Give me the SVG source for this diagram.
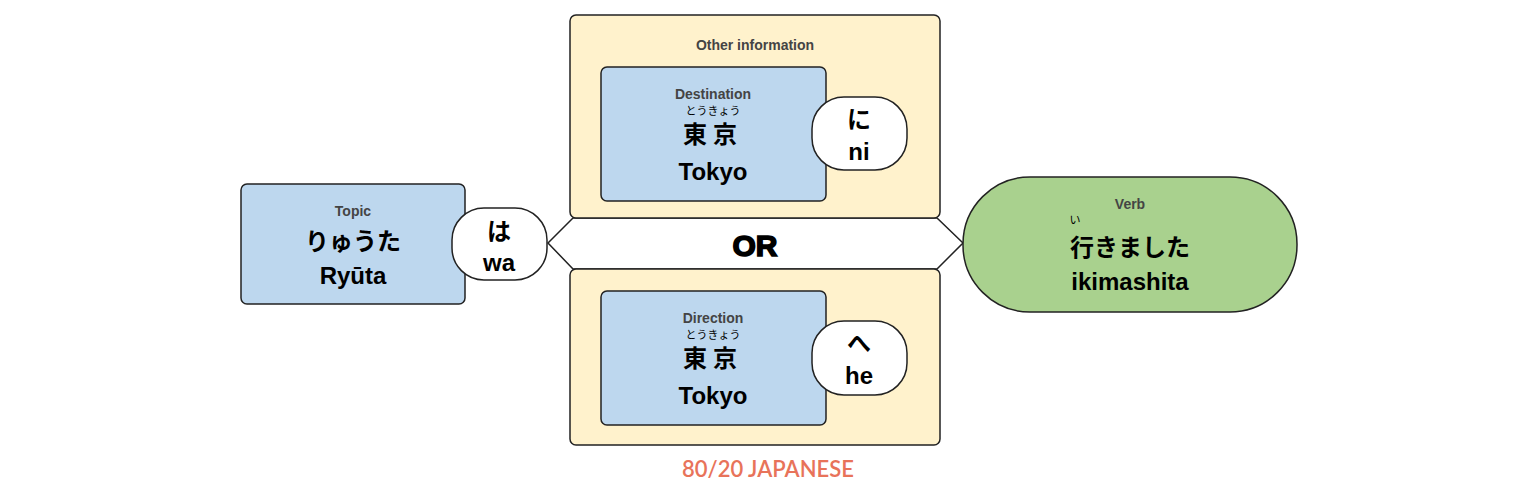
<svg xmlns="http://www.w3.org/2000/svg" width="1536" height="503" viewBox="0 0 1536 503">
<style>
.b{fill:#bdd7ee;stroke:#222;stroke-width:1.5}
.y{fill:#fff2cc;stroke:#222;stroke-width:1.5}
.w{fill:#fff;stroke:#222;stroke-width:1.5}
text{font-family:"Liberation Sans","Noto Sans CJK JP",sans-serif;text-anchor:middle}
.s{font-size:14px;font-weight:bold;fill:#444}
.f{font-size:11px;fill:#000}
.m{font-size:24px;font-weight:bold;fill:#000}
</style>
<rect width="1536" height="503" fill="#fff"/>
<g id="connectors">
<path class="w" d="M573,218 L937,218 L963,243 L937,269 L573,269 L548,243 Z"/>
<text x="755" y="256" style="font-size:30px;font-weight:bold;stroke:#000;stroke-width:1.6">OR</text>
</g>
<g id="other">
<rect class="y" x="570" y="15" width="370" height="203" rx="6"/>
<text class="s" x="755" y="50">Other information</text>
</g>
<g id="destination">
<rect class="b" x="601" y="67" width="225" height="134" rx="6"/>
<text class="s" x="713" y="99">Destination</text>
<text class="f" x="713" y="115">とうきょう</text>
<text class="m" x="713" y="143" letter-spacing="6">東京</text>
<text class="m" x="713" y="180">Tokyo</text>
</g>
<g id="ni"><rect class="w" x="812" y="97" width="95" height="73" rx="32"/>
<text class="m" x="859" y="128">に</text><text class="m" x="859" y="160">ni</text></g>
<g id="otherB"><rect class="y" x="570" y="269" width="370" height="176" rx="6"/></g>
<g id="direction">
<rect class="b" x="601" y="291" width="225" height="134" rx="6"/>
<text class="s" x="713" y="323">Direction</text>
<text class="f" x="713" y="339">とうきょう</text>
<text class="m" x="713" y="367" letter-spacing="6">東京</text>
<text class="m" x="713" y="404">Tokyo</text>
</g>
<g id="he"><rect class="w" x="812" y="321" width="95" height="74" rx="32"/>
<text class="m" x="859" y="352">へ</text><text class="m" x="859" y="384">he</text></g>
<g id="topic">
<rect class="b" x="241" y="184" width="224" height="120" rx="6"/>
<text class="s" x="353" y="216">Topic</text>
<text class="m" x="353" y="250">りゅうた</text>
<text class="m" x="353" y="284">Ryūta</text>
</g>
<g id="wa"><rect class="w" x="452" y="208" width="95" height="72" rx="32"/>
<text class="m" x="499" y="240">は</text><text class="m" x="499" y="271">wa</text></g>
<g id="verb">
<rect x="963" y="177" width="334" height="135" rx="67" fill="#a9d18e" stroke="#222" stroke-width="1.5"/>
<text class="s" x="1130" y="209">Verb</text>
<text class="f" x="1075" y="224">い</text>
<text class="m" x="1130" y="256">行きました</text>
<text class="m" x="1130" y="290">ikimashita</text>
</g>
<text x="768" y="477" style="font-family:Lato,sans-serif;font-size:22px;font-weight:600;fill:#e8735a">80/20 JAPANESE</text>
</svg>
